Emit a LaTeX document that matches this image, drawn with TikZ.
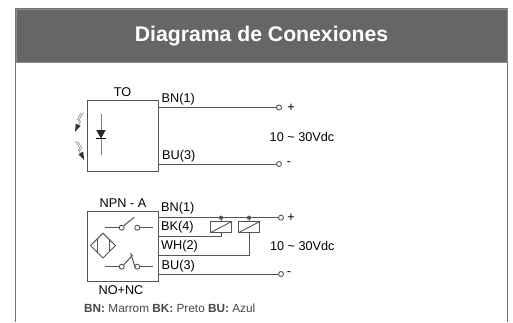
\documentclass[tikz,border=0pt]{standalone}
\usepackage{fontspec}
\setmainfont{Liberation Sans}
\definecolor{hdr}{HTML}{666666}
\definecolor{ln}{HTML}{555555}
\tikzset{
  wire/.style={draw=ln,line width=1pt},
  lab/.style={inner sep=0pt,font=\fontsize{12.7}{14}\selectfont,text=black},
  term/.style={circle,draw=ln,line width=0.9pt,fill=white,minimum size=5pt,inner sep=0pt},
  dotn/.style={circle,fill=ln,minimum size=4.2pt,inner sep=0pt},
  relay/.style={draw=ln,line width=1pt,fill=white,minimum width=21pt,minimum height=10.5pt,inner sep=0pt},
  bolt/.style={draw=black!55,line width=0.5pt},
  bolthead/.style={fill=black!80}
}
\begin{document}
\begin{tikzpicture}[x=1pt,y=-1pt]
\useasboundingbox (0,0) rectangle (513,322);
\fill[white] (0,0) rectangle (513,322);
\draw[draw=black!55,line width=1.1pt] (15.5,322) -- (15.5,8.5) -- (507.3,8.5) -- (507.3,322);
\node[fill=hdr,draw=black!45,line width=0.8pt,minimum width=491.8pt,minimum height=53.5pt,inner sep=0pt,anchor=north west] (head) at (15.5,8.5) {};
\node[text=white,inner sep=0pt,anchor=base,font=\bfseries\fontsize{21.2}{24}\selectfont] (title) at (261.5,41.7) {Diagrama de Conexiones};
% TO
\node[draw=ln,line width=1pt,minimum width=71.5pt,minimum height=70.5pt,inner sep=0pt,anchor=north west] (to) at (86.8,100.2) {};
\node[lab] (tot) at (122.5,92.5) {TO};
\node[lab,anchor=west] (bn1) at (161.5,99) {BN(1)};
\node[lab,anchor=west] (bu3) at (162,156) {BU(3)};
\coordinate (a1) at (158.3,107.5);
\coordinate (a2) at (158.3,164);
\node[term] (p1) at (279,107.5) {};
\node[term] (m1) at (279,164) {};
\draw[wire] (a1) -- (p1);
\draw[wire] (a2) -- (m1);
\node[lab,anchor=center] (pl1) at (291,107.5) {+};
\node[lab,anchor=center] (mi1) at (289,164) {-};
\node[lab] (v1) at (302,136.5) {10 \textasciitilde{} 30Vdc};
% diode
\coordinate (d1) at (101,114.3);
\coordinate (d2) at (101,155);
\draw[draw=black!50,line width=0.7pt] (d1) -- (d2);
\draw[draw=black,line width=0.7pt] (96,138.5) -- (106,138.5);
\fill[black!85] (96.3,130) -- (105.7,130) -- (101,138.5) -- cycle;
% light arrows
\draw[bolt] (83.3,112.5) -- (78.5,121) -- (80.5,121.5) -- (77.5,127);
\draw[bolt] (81,113) -- (77,120);
\fill[bolthead] (75,131.8) -- (75.8,123.5) -- (80.6,126) -- cycle;
\draw[bolt] (75.5,141) -- (80.5,149.5) -- (78.5,150) -- (81,154.5);
\draw[bolt] (78,141.5) -- (82,148.5);
\fill[bolthead] (84.2,160) -- (83.2,151.5) -- (78.5,154.3) -- cycle;
% NPN
\node[draw=ln,line width=1pt,minimum width=71.5pt,minimum height=70.5pt,inner sep=0pt,anchor=north west] (npn) at (86.8,210.5) {};
\node[lab] (npt) at (123,203) {NPN - A};
\node[lab] (nonc) at (121,290) {NO+NC};
\node[lab,anchor=west] (b1) at (161,208.3) {BN(1)};
\node[lab,anchor=west] (b4) at (161,227.7) {BK(4)};
\node[lab,anchor=west] (w2) at (161,246.7) {WH(2)};
\node[lab,anchor=west] (b3) at (161.5,266) {BU(3)};
\coordinate (c1) at (158.3,217.7);
\coordinate (c2) at (158.3,236);
\coordinate (c3) at (158.3,255);
\coordinate (c4) at (158.3,274);
\node[term] (p2) at (281,217.7) {};
\node[term] (m2) at (281,274) {};
\draw[wire] (c1) -- (p2);
\draw[wire] (c4) -- (m2);
\node[relay] (r1) at (221.2,227) {};
\node[relay] (r2) at (249.3,227) {};
\draw[draw=ln,line width=0.9pt] (r1.south west) -- (r1.north east);
\draw[draw=ln,line width=0.9pt] (r2.south west) -- (r2.north east);
\node[dotn] (j1) at (221,217.7) {};
\node[dotn] (j2) at (249,217.7) {};
\draw[wire] (j1) -- (r1.north -| j1);
\draw[wire] (j2) -- (r2.north -| j2);
\coordinate (k1) at (221,236);
\coordinate (k2) at (249,255);
\draw[wire] (c2) -- (k1) -- (r1.south -| k1);
\draw[wire] (c3) -- (k2) -- (r2.south -| k2);
\node[lab,anchor=center] (pl2) at (291,217.7) {+};
\node[lab,anchor=center] (mi2) at (289,274) {-};
\node[lab] (v2) at (302.3,246) {10 \textasciitilde{} 30Vdc};
% switches
\node[term,minimum size=5pt] (s1) at (121.7,227.7) {};
\node[term,minimum size=5pt] (s2) at (137.3,227.7) {};
\node[term,minimum size=5pt] (s3) at (121.7,266.7) {};
\node[term,minimum size=5pt] (s4) at (137.3,266.7) {};
\coordinate (s1l) at (105,227.7);
\coordinate (s2r) at (153.3,227.7);
\coordinate (s3l) at (105,266.7);
\coordinate (s4r) at (153.3,266.7);
\draw[wire] (s1l) -- (s1);
\draw[wire] (s2) -- (s2r);
\draw[wire] (s3l) -- (s3);
\draw[wire] (s4) -- (s4r);
\draw[wire] (s1.north east) -- (134.3,217.3);
\draw[wire] (s3.north east) -- (132.7,255);
\draw[wire] (130.7,253) -- (135,267.5);
% sensor
\draw[draw=ln,line width=1pt] (103,233.2) -- (115.5,245.5) -- (103,258) -- (90.5,245.5) -- cycle;
\draw[draw=ln,line width=1pt] (97,239.3) -- (97,251.7);
\draw[draw=ln,line width=1pt] (109.2,239.3) -- (109.2,251.7);
% legend
\node[inner sep=0pt,anchor=west,text=black!72,font=\fontsize{11.8}{13}\selectfont] (leg) at (84,308) {\textbf{BN:} Marrom \textbf{BK:} Preto \textbf{BU:} Azul};
\end{tikzpicture}
\end{document}
